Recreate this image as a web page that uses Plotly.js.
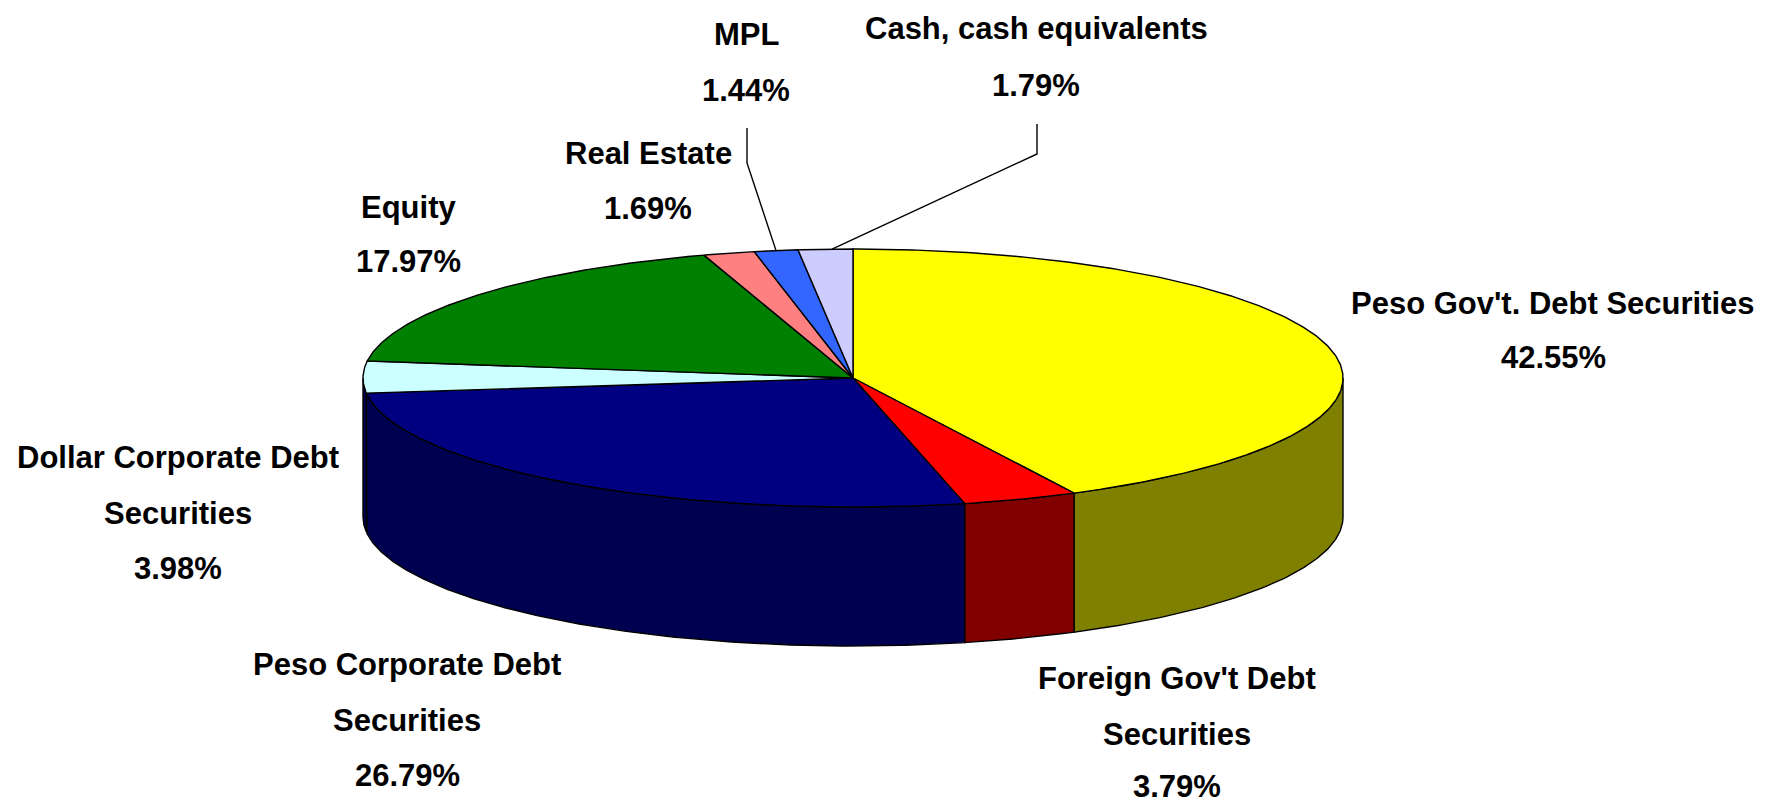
<!DOCTYPE html>
<html>
<head>
<meta charset="utf-8">
<script src="https://cdn.plot.ly/plotly-3.0.1.min.js"></script>
<style>html,body{margin:0;padding:0;background:#fff}#chart{width:1771px;height:805px}</style>
</head>
<body>
<div id="chart"></div>
<script>
// Data, clockwise from 12 o'clock
const categories = ["Peso Gov't. Debt Securities", "Foreign Gov't Debt Securities", "Peso Corporate Debt Securities", "Dollar Corporate Debt Securities", "Equity", "Real Estate", "MPL", "Cash, cash equivalents"];
const values = [42.55, 3.79, 26.79, 3.98, 17.97, 1.69, 1.44, 1.79];
const labelLines = [
  ["Peso Gov't. Debt Securities", "42.55%"],
  ["Foreign Gov't Debt", "Securities", "3.79%"],
  ["Peso Corporate Debt", "Securities", "26.79%"],
  ["Dollar Corporate Debt", "Securities", "3.98%"],
  ["Equity", "17.97%"],
  ["Real Estate", "1.69%"],
  ["MPL", "1.44%"],
  ["Cash, cash equivalents", "1.79%"]
];
// Style and layout
const topColors = ["#FFFF00", "#FF0000", "#000080", "#CCFFFF", "#008000", "#FF8080", "#3366FF", "#CCCCFF"];
const sideColors = ["#808000", "#800000", "#000050", "#000050", "#004000", "#804040", "#1A3380", "#666680"];
const labelX = [1553, 1177, 407, 178, 408, 648, 746, 1036];
const labelY = [[303, 357], [678, 734, 786], [664, 720, 775], [457, 513, 568], [207, 261], [153, 208], [34, 90], [28, 85]];
const leaders = {6: {pts: [[747, 128], [747, 163]], at: 0.5}, 7: {pts: [[1037, 124], [1037, 154]], at: 0.62}};
const cx = 853, cy = 378, rx = 490, ry = 129, depth = 139;
const fontSpec = {family: "Liberation Sans, Arial, sans-serif", size: 31, color: "#000", weight: 700};

const ex = t => cx + rx * Math.sin(t);
const ey = (t, d) => cy - ry * Math.cos(t) + d;
const rad = p => p / 100 * 2 * Math.PI;
function arc(a, b) {
  const n = Math.max(2, Math.ceil(Math.abs(b - a) / (Math.PI / 360)));
  const out = [];
  for (let i = 0; i <= n; i++) out.push(a + (b - a) * i / n);
  return out;
}
const traces = [];
function poly(xs, ys, color) {
  traces.push({type: "scatter", mode: "lines", x: xs, y: ys, fill: "toself", fillcolor: color,
    line: {color: "#000", width: 1.4}, hoverinfo: "skip", showlegend: false});
}
let cum = 0;
const total = values.reduce((s, v) => s + v, 0);
const bounds = values.map(v => { const s = cum; cum += v / total * 100; return [s, cum]; });
// Front wall: only the part of each slice between 3 and 9 o'clock shows
bounds.forEach(([s, e], i) => {
  const a = Math.max(rad(s), Math.PI / 2), b = Math.min(rad(e), 3 * Math.PI / 2);
  if (b <= a) return;
  const ts = arc(a, b);
  poly(ts.map(ex).concat(ts.slice().reverse().map(ex), [ex(a)]),
       ts.map(t => ey(t, 0)).concat(ts.slice().reverse().map(t => ey(t, depth)), [ey(a, 0)]),
       sideColors[i]);
});
// Top face
bounds.forEach(([s, e], i) => {
  const ts = arc(rad(s), rad(e));
  poly([cx].concat(ts.map(ex), [cx]), [cy].concat(ts.map(t => ey(t, 0)), [cy]), topColors[i]);
});
// Leader lines end on the rim of their slice
Object.keys(leaders).forEach(k => {
  const [s, e] = bounds[k], m = rad(s + (e - s) * leaders[k].at), pts = leaders[k].pts;
  traces.push({type: "scatter", mode: "lines", x: pts.map(p => p[0]).concat([ex(m)]), y: pts.map(p => p[1]).concat([ey(m, 0)]),
    line: {color: "#000", width: 1.4}, hoverinfo: "skip", showlegend: false});
});
const annotations = [];
labelLines.forEach((lines, i) => lines.forEach((txt, j) => annotations.push({
  x: labelX[i], y: labelY[i][j], xref: "x", yref: "y", text: txt, showarrow: false,
  xanchor: "center", yanchor: "middle", font: fontSpec
})));
Plotly.newPlot("chart", traces, {
  width: 1771, height: 805, margin: {l: 0, r: 0, t: 0, b: 0},
  paper_bgcolor: "#fff", plot_bgcolor: "#fff", showlegend: false,
  xaxis: {range: [0, 1771], visible: false, fixedrange: true},
  yaxis: {range: [805, 0], visible: false, fixedrange: true},
  annotations
}, {displayModeBar: false, staticPlot: true});
</script>
</body>
</html>
